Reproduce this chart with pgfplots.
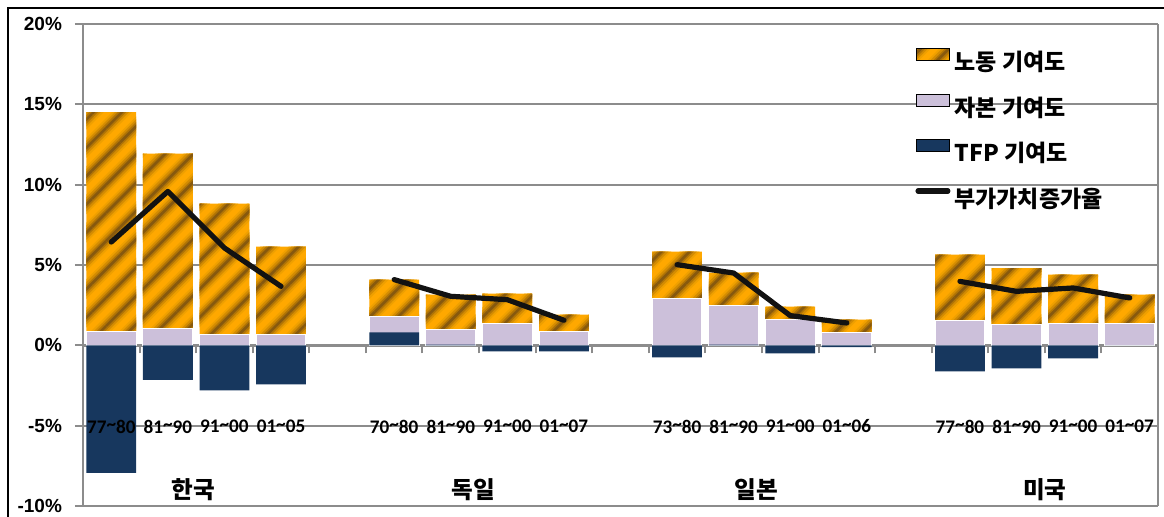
\documentclass[border=0pt]{standalone}
\usepackage{fontspec}
\usepackage{pgfplots}
\pgfplotsset{compat=1.18}
\usepackage{pgfplotstable}
\usetikzlibrary{patterns.meta}
\setmainfont{Liberation Sans}
\newfontfamily\kr{Noto Sans CJK KR}
\newfontfamily\carl{Carlito}

\definecolor{labor}{HTML}{FFA800}
\definecolor{laborA}{HTML}{EFA000}
\definecolor{laborB}{HTML}{D48C02}
\definecolor{laborC}{HTML}{B07406}
\definecolor{laborD}{HTML}{87590E}
\definecolor{capital}{HTML}{CCC0DA}
\definecolor{tfpblue}{HTML}{17375E}
\definecolor{gridgray}{HTML}{8C8C8C}

% orange with soft brown diagonal bands
\tikzset{laborfill/.style={fill=labor,
  postaction={pattern={Lines[angle=45,distance=10pt,line width=7pt]},pattern color=laborA},
  postaction={pattern={Lines[angle=45,distance=10pt,line width=5pt]},pattern color=laborB},
  postaction={pattern={Lines[angle=45,distance=10pt,line width=3pt]},pattern color=laborC},
  postaction={pattern={Lines[angle=45,distance=10pt,line width=1.3pt]},pattern color=laborD}}}

% contributions (percentage points): TFP, capital, labour; va = value-added growth
\pgfplotstableread{
x  tfp    cap   lab    va
0  -7.94  0.87  13.65  6.43
1  -2.15  1.02  10.91  9.58
2  -2.80  0.67   8.15  6.06
3  -2.43  0.67   5.47  3.67
}\korea
\pgfplotstableread{
x  tfp    cap   lab    va
5   0.81  1.00  2.28   4.09
6   0.05  0.93  2.17   3.05
7  -0.37  1.33  1.89   2.84
8  -0.37  0.87  1.04   1.56
}\germany
\pgfplotstableread{
x  tfp    cap   lab    va
10 -0.75  2.91  2.92   5.02
11  0.05  2.42  2.05   4.50
12 -0.50  1.60  0.81   1.85
13 -0.12  0.79  0.81   1.39
}\japan
\pgfplotstableread{
x  tfp    cap   lab    va
15 -1.62  1.56  4.08   3.98
16 -1.43  1.31  3.50   3.36
17 -0.81  1.35  3.05   3.57
18  0.00  1.35  1.80   2.95
}\usa

\pgfplotsset{
  barbase/.style={ybar, bar width=0.88, bar shift=0pt, forget plot},
  growth/.style={black!93, line width=2.6pt, line cap=round, line join=round, forget plot},
}

% one country: labour on top of capital on top of positive TFP; negative TFP below zero
\newcommand\country[1]{%
  \addplot[barbase, draw=none, laborfill] table[x=x, y expr={max(\thisrow{tfp},0)+\thisrow{cap}+\thisrow{lab}}] {#1};
  \addplot[barbase, fill=capital, draw=white, line width=0.5pt] table[x=x, y expr={max(\thisrow{tfp},0)+\thisrow{cap}}] {#1};
  \addplot[barbase, fill=tfpblue, draw=none] table[x=x, y=tfp] {#1};
  \addplot[growth] table[x=x, y=va] {#1};
}

% period label with a raised tilde
\newcommand\per[2]{#1\raisebox{0.28ex}{\textasciitilde}#2}

\begin{document}
\begin{tikzpicture}
\useasboundingbox (0,0) rectangle (582pt,258.5pt);
\draw[black, line width=1.3pt] (4pt,-10pt) -- (4pt,254.5pt) -- (600pt,254.5pt);
\begin{axis}[
  at={(41.5pt,5.5pt)}, anchor=south west,
  scale only axis, width=537.5pt, height=241pt,
  xmin=-0.5, xmax=18.5, ymin=-10, ymax=20,
  axis x line*=middle, axis y line*=left,
  axis line style={gridgray, line width=1.4pt},
  xtick={-0.5,0.5,...,18.5}, xticklabels={},
  ytick={-10,-5,...,20},
  yticklabels={-10\%,-5\%,0\%,5\%,10\%,15\%,20\%},
  tick align=outside, major tick length=4pt,
  tick style={gridgray, line width=1pt},
  yticklabel style={font=\bfseries\fontsize{9.5}{11}\selectfont, xshift=-3pt},
  ymajorgrids, major grid style={gridgray, line width=1pt},
  clip=false,
  legend style={at={(rel axis cs:0.774,0.952)}, anchor=north west,
    draw=none, fill=none, inner sep=0pt,
    font=\kr\bfseries\fontsize{11.5}{13}\selectfont,
    row sep=7.5pt, nodes={inner sep=2pt}},
  legend cell align=left,
]
\country{\korea}
\country{\germany}
\country{\japan}
\country{\usa}

\draw[gridgray, line width=1.4pt] (rel axis cs:1,0) -- (rel axis cs:1,1);

% period labels
\foreach \px/\a/\b in {0/77/80,1/81/90,2/91/00,3/01/05,
    5/70/80,6/81/90,7/91/00,8/01/07,
    10/73/80,11/81/90,12/91/00,13/01/06,
    15/77/80,16/81/90,17/91/00,18/01/07}{
  \edef\tmp{\noexpand\node[font=\noexpand\carl\noexpand\bfseries\noexpand\fontsize{9.6}{11}\noexpand\selectfont] at (axis cs:\px,-5.05) {\noexpand\per{\a}{\b}};}\tmp
}
% country labels
\node[font=\kr\bfseries\fontsize{11.8}{13}\selectfont] at (axis cs:1.45,-9.0) {한국};
\node[font=\kr\bfseries\fontsize{11.8}{13}\selectfont] at (axis cs:6.4,-9.0) {독일};
\node[font=\kr\bfseries\fontsize{11.8}{13}\selectfont] at (axis cs:11.4,-9.0) {일본};
\node[font=\kr\bfseries\fontsize{11.8}{13}\selectfont] at (axis cs:16.5,-9.0) {미국};

\addlegendimage{legend image code/.code={\path[laborfill] (0pt,1pt) rectangle (16.5pt,7pt);}}
\addlegendentry{노동 기여도}
\addlegendimage{legend image code/.code={\path[fill=capital] (0pt,1pt) rectangle (16.5pt,7pt);}}
\addlegendentry{자본 기여도}
\addlegendimage{legend image code/.code={\path[fill=tfpblue] (0pt,1pt) rectangle (16.5pt,7pt);}}
\addlegendentry{TFP 기여도}
\addlegendimage{legend image code/.code={\draw[black!93, line width=2.6pt, line cap=round] (0.8pt,4pt) -- (15.7pt,4pt);}}
\addlegendentry{부가가치증가율}
\end{axis}
\end{tikzpicture}
\end{document}
